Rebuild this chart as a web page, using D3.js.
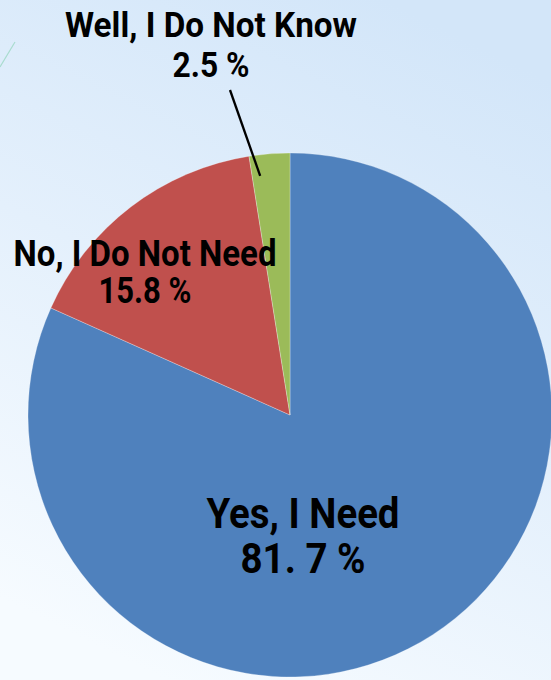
<!DOCTYPE html>
<html>
<head>
<meta charset="utf-8">
<script src="https://cdn.jsdelivr.net/npm/d3@7"></script>
<style>
  html, body { margin: 0; padding: 0; background: #e6f1fc; }
  svg { display: block; }
  text { font-family: Roboto, "Liberation Sans", sans-serif; fill: #000; }
</style>
</head>
<body>
<script>
// Survey answers, percent of respondents
const categories = ["Yes, I Need", "No, I Do Not Need", "Well, I Do Not Know"];
const values = [81.7, 15.8, 2.5];
const valueLabels = ["81. 7 %", "15.8 %", "2.5 %"];
const colors = ["#4f81bd", "#c0504d", "#9bbb59"];

const W = 551, H = 680;
const cx = 290, cy = 415, R = 262;

const svg = d3.select("body").append("svg").attr("width", W).attr("height", H);

// soft light-blue slide background
const defs = svg.append("defs");
const bg = defs.append("linearGradient").attr("id", "bg")
  .attr("x1", "0.7").attr("y1", "0").attr("x2", "0.3").attr("y2", "1");
bg.append("stop").attr("offset", "0").attr("stop-color", "#d3e6f9");
bg.append("stop").attr("offset", "0.5").attr("stop-color", "#e4f0fc");
bg.append("stop").attr("offset", "1").attr("stop-color", "#f6fbff");
svg.append("rect").attr("width", W).attr("height", H).attr("fill", "url(#bg)");

// thin decorative stroke in the upper-left corner
svg.append("line").attr("x1", 15).attr("y1", 42).attr("x2", 0).attr("y2", 67)
  .attr("stroke", "#a9dccf").attr("stroke-width", 1.2);

const pie = d3.pie().sort(null).value(d => d)(values);
const arc = d3.arc().innerRadius(0).outerRadius(R);

const g = svg.append("g").attr("transform", `translate(${cx},${cy})`);
g.selectAll("path").data(pie).join("path")
  .attr("d", arc)
  .attr("fill", (d, i) => colors[i])
  .attr("stroke", "rgba(255,255,255,0.35)")
  .attr("stroke-width", 0.8);

// label placement per slice: centre x, first baseline, font size, line gap,
// and the condensed width of each of the two lines
const labelPos = [
  { x: 303, y: 528, size: 42, gap: 45, w: [193, 125] },
  { x: 145, y: 266, size: 36, gap: 37, w: [263, 93] },
  { x: 211, y: 37, size: 35, gap: 40, w: [292, 77] }
];

const labels = svg.append("g");
categories.forEach((c, i) => {
  const p = labelPos[i];
  const t = labels.append("text")
    .attr("text-anchor", "middle")
    .attr("font-size", p.size)
    .attr("font-weight", 700);
  [c, valueLabels[i]].forEach((line, k) => {
    t.append("tspan")
      .attr("x", p.x).attr("y", p.y + k * p.gap)
      .attr("textLength", p.w[k])
      .attr("lengthAdjust", "spacingAndGlyphs")
      .text(line);
  });
});

// leader line from the small slice up to its label
const small = pie[2];
const tipAngle = small.startAngle + 0.21 * (small.endAngle - small.startAngle);
const rIn = R * 0.92;
labels.append("line")
  .attr("x1", 230).attr("y1", 90)
  .attr("x2", cx + Math.sin(tipAngle) * rIn)
  .attr("y2", cy - Math.cos(tipAngle) * rIn)
  .attr("stroke", "#000").attr("stroke-width", 2.3);
</script>
</body>
</html>
